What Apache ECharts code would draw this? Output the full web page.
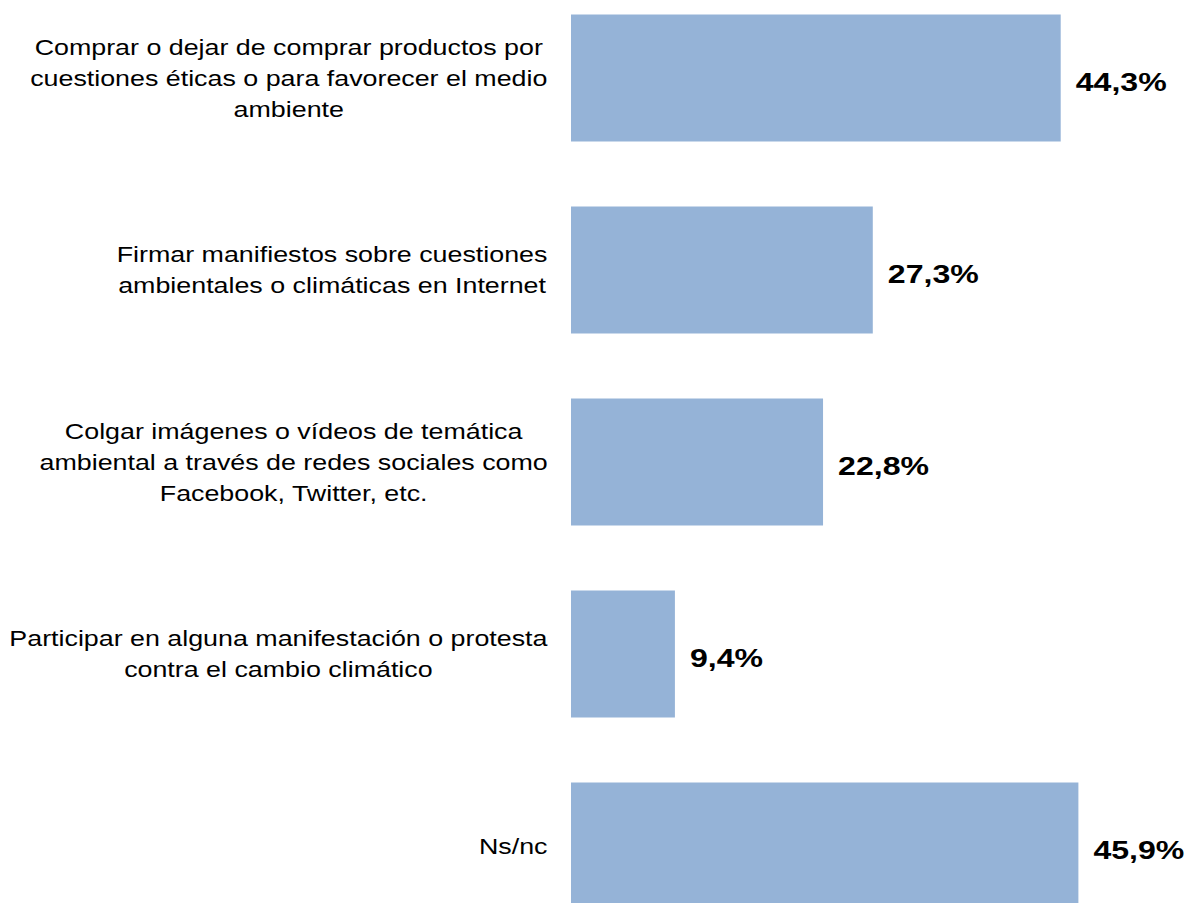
<!DOCTYPE html>
<html>
<head>
<meta charset="utf-8">
<script src="https://cdn.jsdelivr.net/npm/echarts@6/dist/echarts.min.js"></script>
<style>
html,body{margin:0;padding:0;background:#fff;overflow:hidden;width:1191px;height:903px;position:relative}
#c{position:absolute;left:0;top:-18px;height:960px;transform-origin:0 0}
</style>
</head>
<body>
<div id="c"></div>
<script>
var categories = [
  "Comprar o dejar de comprar productos por\ncuestiones éticas o para favorecer el medio\nambiente",
  "Firmar manifiestos sobre cuestiones\nambientales o climáticas en Internet",
  "Colgar imágenes o vídeos de temática\nambiental a través de redes sociales como\nFacebook, Twitter, etc.",
  "Participar en alguna manifestación o protesta\ncontra el cambio climático",
  "Ns/nc"
];
var values = [44.3, 27.3, 22.8, 9.4, 45.9];

var S = 1.22; // horizontal stretch of the reference rendering
var W = 1191 / S;
var el = document.getElementById('c');
el.style.width = W + 'px';
el.style.transform = 'scaleX(' + S + ')';

var FONT = 'Liberation Sans, Arial, sans-serif';
var CAT_SIZE = 22;
var VAL_SIZE = 26.3;
var cv = document.createElement('canvas').getContext('2d');
cv.font = CAT_SIZE + 'px ' + FONT;
var rich = {};
categories.forEach(function (c, i) {
  var w = 0;
  c.split('\n').forEach(function (l) { w = Math.max(w, cv.measureText(l).width); });
  rich['w' + i] = { width: Math.ceil(w), align: 'center', fontSize: CAT_SIZE, fontFamily: FONT, color: '#000', lineHeight: 31 };
});

var chart = echarts.init(el, null, { renderer: 'svg' });
chart.setOption({
  animation: false,
  grid: { left: 571 / S, right: W - 571 / S - 553 / S, top: 0, bottom: 0, containLabel: false },
  xAxis: { type: 'value', min: 0, max: 50, show: false },
  yAxis: {
    type: 'category', inverse: true, data: categories,
    axisLine: { show: false }, axisTick: { show: false }, splitLine: { show: false },
    axisLabel: {
      margin: 23 / S, align: 'right',
      formatter: function (v, idx) {
        return v.split('\n').map(function (l) { return '{w' + idx + '|' + l + '}'; }).join('\n');
      },
      rich: rich
    }
  },
  series: [{
    type: 'bar', data: values, barWidth: 127,
    itemStyle: { color: '#95B3D7' },
    label: {
      show: true, position: 'right', distance: 15 / S, offset: [0, 4],
      fontFamily: FONT, fontWeight: 'bold', fontSize: VAL_SIZE, color: '#000',
      formatter: function (p) { return p.value.toFixed(1).replace('.', ',') + '%'; }
    }
  }]
});
</script>
</body>
</html>
